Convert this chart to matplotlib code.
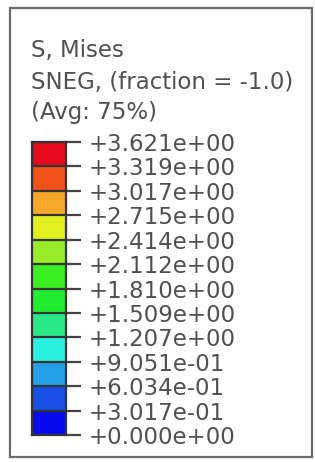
import matplotlib
matplotlib.use("Agg")
import matplotlib.pyplot as plt
from matplotlib.patches import Rectangle
import numpy as np

# ---- data ----
title_lines = ["S, Mises", "SNEG, (fraction = -1.0)", "(Avg: 75%)"]
levels = [0.0, 0.3017, 0.6034, 0.9051, 1.207, 1.509, 1.810, 2.112,
          2.414, 2.715, 3.017, 3.319, 3.621]
tick_labels = ["+0.000e+00", "+3.017e-01", "+6.034e-01", "+9.051e-01",
               "+1.207e+00", "+1.509e+00", "+1.810e+00", "+2.112e+00",
               "+2.414e+00", "+2.715e+00", "+3.017e+00", "+3.319e+00",
               "+3.621e+00"]
cell_colors = ["#0a0aee", "#1a50e6", "#25a0e6", "#28f0dc", "#2ae888",
               "#22ec30", "#3aee22", "#98ec2a", "#e0f020", "#f3a82a",
               "#f0521a", "#e60a1e"]

W, H = 315, 462
fig = plt.figure(figsize=(W / 100, H / 100), dpi=100)
fig.patch.set_facecolor("white")

# border box
fig.add_artist(Rectangle((10 / W, 1 - 457 / H), (312 - 10) / W, (457 - 8) / H,
                         transform=fig.transFigure, fill=False,
                         edgecolor="#6a6a6a", linewidth=1.6))

txt_color = "#505050"
fs = 16.5
for line, yc in zip(title_lines, [51, 82, 113]):
    fig.text(31 / W, 1 - yc / H, line, ha="left", va="center",
             fontsize=fs, color=txt_color, family="DejaVu Sans")

# colour bar axes
left, right, top, bottom = 32, 66, 142, 435
ax = fig.add_axes([left / W, 1 - bottom / H, (right - left) / W, (bottom - top) / H])
for i, c in enumerate(cell_colors):
    ax.bar(0.5, levels[i + 1] - levels[i], bottom=levels[i], width=1.0,
           color=c, edgecolor="none")
for lv in levels:
    ax.axhline(lv, color="#333333", linewidth=1.6)
ax.set_xlim(0, 1)
ax.set_ylim(levels[0], levels[-1])
ax.set_xticks([])
ax.yaxis.tick_right()
ax.set_yticks(levels)
ax.set_yticklabels(tick_labels)
ax.tick_params(axis="y", length=11, width=1.6, color="#444444",
               labelsize=fs, labelcolor=txt_color, pad=5)
for s in ax.spines.values():
    s.set_color("#333333")
    s.set_linewidth(1.6)

fig.savefig("out.png", dpi=100, facecolor="white")
